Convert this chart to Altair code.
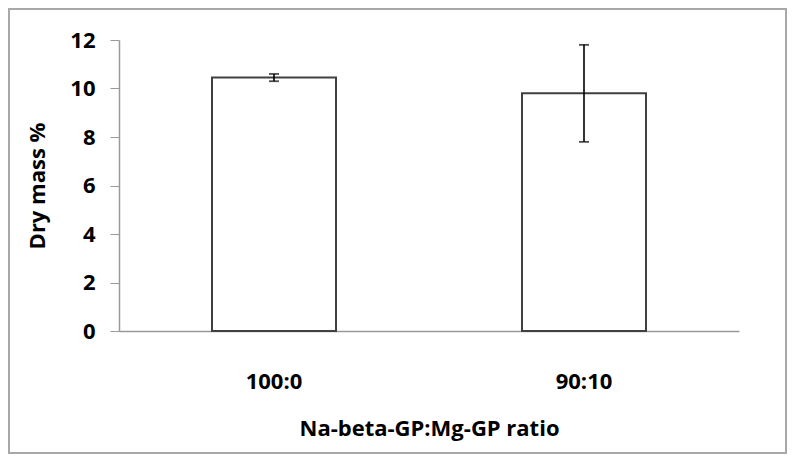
import altair as alt
import pandas as pd

categories = ["100:0", "90:10"]
dry_mass = [10.45, 9.8]
errors = [0.15, 2.0]

df = pd.DataFrame({"ratio": categories, "mass": dry_mass, "err": errors})
df["lo"] = df["mass"] - df["err"]
df["hi"] = df["mass"] + df["err"]

FONT = "Open Sans"

x_enc = alt.X(
    "ratio:N",
    sort=categories,
    title="Na-beta-GP:Mg-GP ratio",
    scale=alt.Scale(paddingInner=0.6, paddingOuter=0.3),
    axis=alt.Axis(
        labelAngle=0, ticks=False, labelPadding=40, titlePadding=26,
        domainColor="#9a9a9a", domainWidth=1.5,
    ),
)
y_scale = alt.Scale(domain=[0, 12])

bars = alt.Chart(df).mark_bar(fill="white", stroke="#404040", strokeWidth=2).encode(
    x=x_enc,
    y=alt.Y(
        "mass:Q", scale=y_scale, title="Dry mass %",
        axis=alt.Axis(
            values=[0, 2, 4, 6, 8, 10, 12], grid=False, tickSize=9,
            tickColor="#9a9a9a", domainColor="#9a9a9a", domainWidth=1.5,
            labelPadding=15, titlePadding=20,
        ),
    ),
)

rules = alt.Chart(df).mark_rule(color="black", strokeWidth=1.6).encode(
    x=alt.X("ratio:N", sort=categories),
    y=alt.Y("lo:Q", scale=y_scale),
    y2="hi:Q",
)
caps_lo = alt.Chart(df).mark_tick(color="black", thickness=1.8, size=10).encode(
    x=alt.X("ratio:N", sort=categories),
    y=alt.Y("lo:Q", scale=y_scale),
)
caps_hi = alt.Chart(df).mark_tick(color="black", thickness=1.8, size=10).encode(
    x=alt.X("ratio:N", sort=categories),
    y=alt.Y("hi:Q", scale=y_scale),
)

frame = alt.Chart(df).mark_rect(
    fill=None, stroke="#a8a8a8", strokeWidth=2, clip=False
).encode(
    x=alt.value(-110), x2=alt.value(667),
    y=alt.value(-31), y2=alt.value(413),
)

chart = alt.layer(frame, bars, rules, caps_lo, caps_hi).properties(
    width=620, height=291,
    background="white",
    autosize=alt.AutoSizeParams(type="none"),
    padding={"left": 111, "top": 32, "right": 48, "bottom": 123},
).configure_view(stroke=None).configure_axis(
    labelFont=FONT, titleFont=FONT, labelFontSize=22, titleFontSize=22,
    labelFontWeight="bold", titleFontWeight="bold",
    labelColor="black", titleColor="black", grid=False,
)

chart.save("out.html", embed_options={"renderer": "svg", "actions": False})
